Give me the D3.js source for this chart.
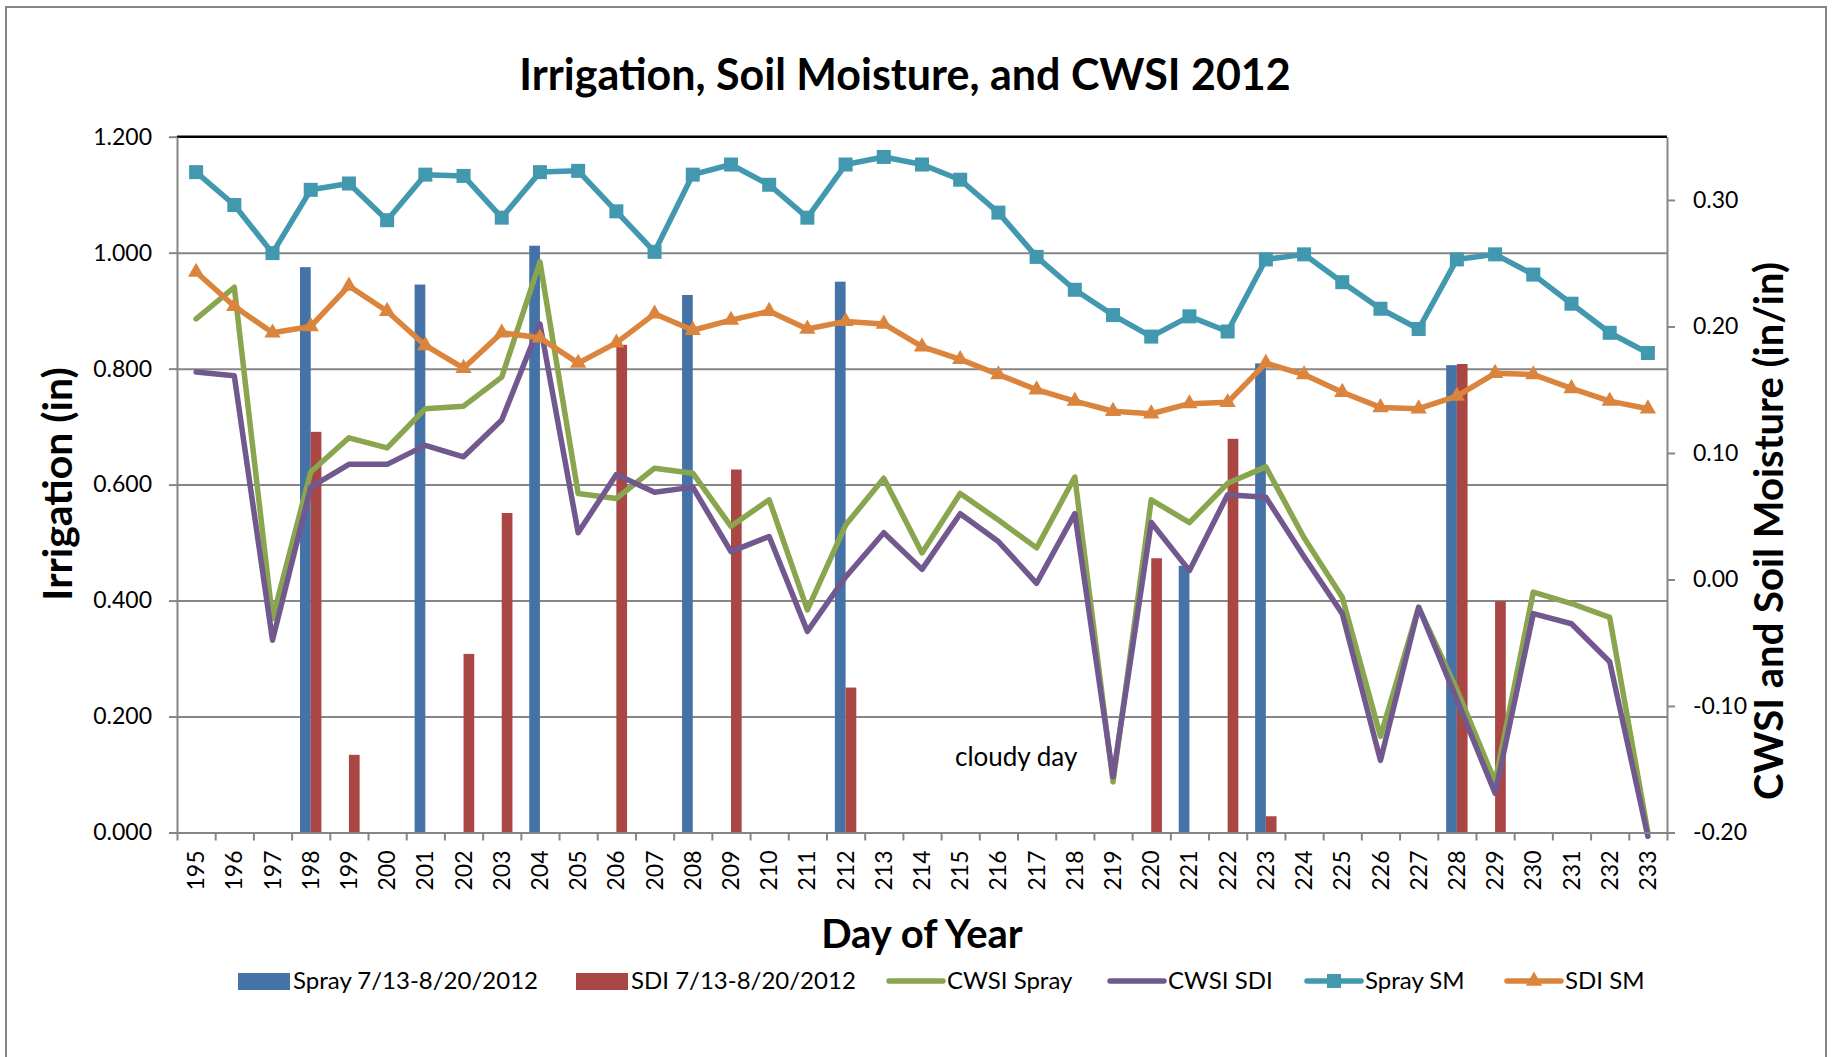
<!DOCTYPE html>
<html>
<head>
<meta charset="utf-8">
<script src="https://cdn.jsdelivr.net/npm/d3@7"></script>
<style>
  body { margin: 0; background: #fff; }
  text { font-family: Lato, "Open Sans", sans-serif; fill: #000; }
</style>
</head>
<body>
<div id="canvas"></div>
<script>
// day of year categories
const days = ["195","196","197","198","199","200","201","202","203","204","205","206","207",
              "208","209","210","211","212","213","214","215","216","217","218","219","220",
              "221","222","223","224","225","226","227","228","229","230","231","232","233"];

// irrigation (in), left axis
const sprayIrr = [0,0,0,0.975,0,0,0.945,0,0,1.012,0,0,0,0.927,0,0,0,0.950,0,0,
                  0,0,0,0,0,0,0.460,0,0.809,0,0,0,0,0.806,0,0,0,0,0];
const sdiIrr   = [0,0,0,0.691,0.134,0,0,0.308,0.551,0,0,0.841,0,0,0.626,0,0,0.250,0,0,
                  0,0,0,0,0,0.473,0,0.679,0.028,0,0,0,0,0.808,0.399,0,0,0,0];

// CWSI and soil moisture, right axis
const cwsiSpray = [0.206,0.231,-0.031,0.085,0.112,0.104,0.135,0.137,0.160,0.251,0.068,0.064,0.088,
                   0.084,0.042,0.063,-0.024,0.043,0.080,0.021,0.068,0.047,0.025,0.081,-0.160,0.063,
                   0.045,0.076,0.089,0.033,-0.014,-0.124,-0.022,-0.087,-0.160,-0.010,-0.019,-0.030,-0.200];
const cwsiSdi   = [0.164,0.161,-0.048,0.073,0.091,0.091,0.106,0.097,0.126,0.202,0.037,0.083,0.069,
                   0.073,0.022,0.034,-0.041,0.002,0.037,0.008,0.052,0.030,-0.003,0.052,-0.156,0.045,
                   0.007,0.067,0.065,0.018,-0.027,-0.143,-0.022,-0.095,-0.169,-0.027,-0.035,-0.065,-0.203];
const spraySM   = [0.322,0.296,0.258,0.308,0.313,0.284,0.320,0.319,0.286,0.322,0.323,0.291,0.259,
                   0.320,0.328,0.312,0.286,0.328,0.334,0.328,0.316,0.290,0.255,0.229,0.209,0.192,
                   0.208,0.196,0.253,0.257,0.235,0.214,0.198,0.253,0.257,0.241,0.218,0.195,0.179];
const sdiSM     = [0.243,0.216,0.195,0.200,0.232,0.212,0.185,0.167,0.195,0.191,0.171,0.187,0.210,
                   0.197,0.205,0.212,0.198,0.204,0.202,0.184,0.174,0.162,0.150,0.141,0.133,0.131,
                   0.139,0.140,0.171,0.162,0.148,0.136,0.135,0.145,0.163,0.162,0.151,0.141,0.135];

const leftTicks  = [0, 0.2, 0.4, 0.6, 0.8, 1.0, 1.2];
const rightTicks = [-0.2, -0.1, 0, 0.1, 0.2, 0.3];

const legendNames = ["Spray 7/13-8/20/2012", "SDI 7/13-8/20/2012", "CWSI Spray", "CWSI SDI", "Spray SM", "SDI SM"];

const w = 1835, h = 1057;
const plotL = 177, plotR = 1667, plotT = 136.7, plotB = 832.5;
const gridColor = "#868686";
const blue = "#4572A7", red = "#AA4643", green = "#89A54E", purple = "#71588F", teal = "#4198AF", orange = "#DB843D";

const svg = d3.select("#canvas").append("svg").attr("width", w).attr("height", h);

svg.append("rect").attr("x", 6).attr("y", 7).attr("width", 1820).attr("height", 1070)
   .attr("fill", "none").attr("stroke", gridColor).attr("stroke-width", 2);

svg.append("text").text("Irrigation, Soil Moisture, and CWSI 2012")
   .attr("x", 905).attr("y", 90).attr("text-anchor", "middle")
   .style("font-size", "43px").style("font-weight", "bold");

const xScale = d3.scaleBand().domain(days).range([plotL, plotR]);
const subScale = d3.scaleBand().domain(["spray", "sdi"]).range([0, xScale.bandwidth()]).paddingOuter(0.785);
const yLeft = d3.scaleLinear().domain([0, 1.2]).range([plotB, plotT]);
const yRight = d3.scaleLinear().domain([-0.2, 0.35]).range([plotB, plotT]);
const xIndex = d3.scaleLinear().domain([0, days.length]).range([plotL, plotR]);

// gridlines
const grid = svg.append("g").attr("transform", "translate(" + plotL + ",0)")
   .call(d3.axisLeft(yLeft).tickValues(leftTicks.slice(1, -1)).tickSize(-(plotR - plotL)).tickFormat(""));
grid.select(".domain").remove();
grid.selectAll("line").attr("stroke", gridColor).attr("stroke-width", 2);

svg.append("line").attr("x1", plotL).attr("x2", plotR).attr("y1", yLeft(1.2)).attr("y2", yLeft(1.2))
   .attr("stroke", "#000").attr("stroke-width", 2.5);

// bars
const barSets = [{key: "spray", vals: sprayIrr, color: blue}, {key: "sdi", vals: sdiIrr, color: red}];
barSets.forEach(s => {
  svg.append("g").selectAll("rect")
     .data(days.map((d, i) => ({day: d, v: s.vals[i]})).filter(d => d.v > 0))
     .enter().append("rect")
     .attr("x", d => xScale(d.day) + subScale(s.key))
     .attr("width", subScale.bandwidth())
     .attr("y", d => yLeft(d.v))
     .attr("height", d => yLeft(0) - yLeft(d.v))
     .attr("fill", s.color);
});

// lines
const line = d3.line().x((d, i) => xScale(days[i]) + xScale.bandwidth() / 2).y(d => yRight(d));
const lineSets = [
  {vals: cwsiSpray, color: green},
  {vals: cwsiSdi, color: purple},
  {vals: spraySM, color: teal},
  {vals: sdiSM, color: orange}
];
lineSets.forEach(s => {
  svg.append("path").datum(s.vals).attr("d", line)
     .attr("fill", "none").attr("stroke", s.color).attr("stroke-width", 5.5)
     .attr("stroke-linejoin", "round").attr("stroke-linecap", "round");
});

// markers
svg.append("g").selectAll("rect").data(spraySM).enter().append("rect")
   .attr("x", (d, i) => xScale(days[i]) + xScale.bandwidth() / 2 - 7)
   .attr("y", d => yRight(d) - 7)
   .attr("width", 14).attr("height", 14).attr("fill", teal);

const tri = d3.symbol().type(d3.symbolTriangle).size(115);
svg.append("g").selectAll("path").data(sdiSM).enter().append("path")
   .attr("d", tri)
   .attr("transform", (d, i) => "translate(" + (xScale(days[i]) + xScale.bandwidth() / 2) + "," + yRight(d) + ")")
   .attr("fill", orange);

// axes
const yAxis = svg.append("g").attr("transform", "translate(" + plotL + ",0)")
   .call(d3.axisLeft(yLeft).tickValues(leftTicks).tickFormat(d => d.toFixed(3)).tickSize(8).tickSizeOuter(0).tickPadding(17));
yAxis.attr("color", gridColor);
yAxis.select(".domain").attr("stroke-width", 2);
yAxis.selectAll("line").attr("stroke-width", 2);
yAxis.selectAll("text").style("font-size", "23px").attr("fill", "#000");

const y2Axis = svg.append("g").attr("transform", "translate(" + plotR + ",0)")
   .call(d3.axisRight(yRight).tickValues(rightTicks).tickFormat(d => d.toFixed(2)).tickSize(8).tickSizeOuter(0).tickPadding(18));
y2Axis.attr("color", gridColor);
y2Axis.select(".domain").attr("stroke-width", 2);
y2Axis.selectAll("line").attr("stroke-width", 2);
y2Axis.selectAll("text").style("font-size", "23px").attr("fill", "#000");

const xTicks = svg.append("g").attr("transform", "translate(0," + plotB + ")")
   .call(d3.axisBottom(xIndex).tickValues(d3.range(days.length + 1)).tickFormat("").tickSize(8).tickSizeOuter(0));
xTicks.attr("color", gridColor);
xTicks.select(".domain").attr("stroke-width", 2);
xTicks.selectAll("line").attr("stroke-width", 2);

const xAxis = svg.append("g").attr("transform", "translate(0," + plotB + ")")
   .call(d3.axisBottom(xScale).tickSize(0));
xAxis.select(".domain").remove();
xAxis.selectAll("text")
   .attr("transform", "rotate(-90)").attr("x", -18).attr("y", 0).attr("dy", "0.35em")
   .attr("text-anchor", "end").attr("fill", "#000").style("font-size", "23px");

// axis titles
svg.append("text").text("Irrigation (in)")
   .attr("transform", "translate(72,484) rotate(-90)").attr("text-anchor", "middle")
   .style("font-size", "41px").style("font-weight", "bold");
svg.append("text").text("CWSI and Soil Moisture (in/in)")
   .attr("transform", "translate(1783,531) rotate(-90)").attr("text-anchor", "middle")
   .style("font-size", "40px").style("font-weight", "bold");
svg.append("text").text("Day of Year")
   .attr("x", 922).attr("y", 948).attr("text-anchor", "middle")
   .style("font-size", "40px").style("font-weight", "bold");

svg.append("text").text("cloudy day").attr("x", 955).attr("y", 766).style("font-size", "26px");

// legend
const legendX = [238, 576, 889, 1110, 1307, 1507];
const legendY = 981;
const legend = svg.append("g");
legendNames.forEach((name, i) => {
  const x = legendX[i];
  if (i < 2) {
    legend.append("rect").attr("x", x).attr("y", legendY - 8).attr("width", 52).attr("height", 17)
          .attr("fill", i == 0 ? blue : red);
  } else {
    const c = lineSets[i - 2].color;
    legend.append("line").attr("x1", x).attr("x2", x + 54).attr("y1", legendY).attr("y2", legendY)
          .attr("stroke", c).attr("stroke-width", 5.5).attr("stroke-linecap", "round");
    if (i == 4) {
      legend.append("rect").attr("x", x + 27 - 7).attr("y", legendY - 7).attr("width", 14).attr("height", 14).attr("fill", c);
    }
    if (i == 5) {
      legend.append("path").attr("d", tri).attr("transform", "translate(" + (x + 27) + "," + legendY + ")").attr("fill", c);
    }
  }
  legend.append("text").text(name).attr("x", x + (i < 2 ? 55 : 58)).attr("y", legendY + 8)
        .style("font-size", "24px");
});
</script>
</body>
</html>
